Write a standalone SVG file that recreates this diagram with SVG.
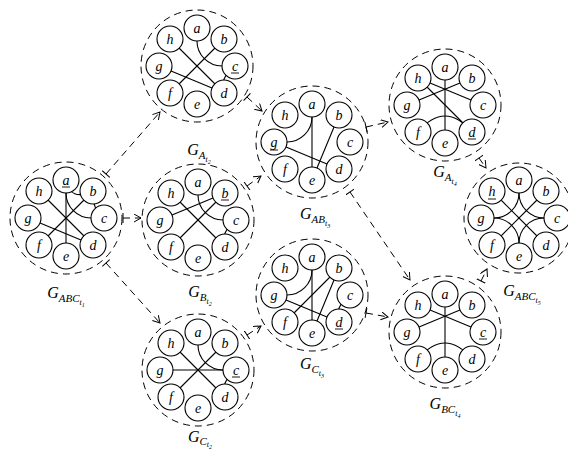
<svg xmlns="http://www.w3.org/2000/svg" width="568" height="452" viewBox="0 0 568 452">
<style>
.bg{fill:#fff}
.hull{fill:none;stroke:#000;stroke-width:1;stroke-dasharray:7 5}
.n circle{fill:#fff;stroke:#000;stroke-width:1.1}
.n text{font-family:"Liberation Serif",serif;font-style:italic;font-size:14px;text-anchor:middle;fill:#000}
.e line,.e path{stroke:#000;stroke-width:1.1;fill:none}
.ul{stroke:#000;stroke-width:0.9}
.lbl{font-family:"Liberation Serif",serif;font-style:italic;font-size:16px;text-anchor:middle;fill:#000}
.cn path{fill:none;stroke:#000;stroke-width:1;stroke-dasharray:7 5;marker-start:url(#bar);marker-end:url(#arr)}
</style>
<defs>
<marker id="arr" markerWidth="10" markerHeight="10" refX="7" refY="4" orient="auto" markerUnits="userSpaceOnUse"><path d="M0,0 L7,4 L0,8" fill="none" stroke="#000" stroke-width="1"/></marker>
<marker id="bar" markerWidth="3" markerHeight="10" refX="1" refY="5" orient="auto" markerUnits="userSpaceOnUse"><path d="M1,0 V10" stroke="#000" stroke-width="1"/></marker>
</defs>
<rect class="bg" width="568" height="452"/>

<g id="connectors" class="cn">
<path d="M106,174 L160,112"/>
<path d="M123,218 L141,218"/>
<path d="M106,263 L160,323"/>
<path d="M247,97 L262,111"/>
<path d="M247,186 L261,176"/>
<path d="M247,335 L261,326"/>
<path d="M366,127 L388,122"/>
<path d="M350,192 L410,280"/>
<path d="M366,313 L388,317"/>
<path d="M479,158 L486,168"/>
<path d="M481,281 L487,269"/>
</g>

<!-- G_ABC_t1 -->
<g id="G_ABC_t1" transform="translate(66,218)">
<circle class="hull" r="56"/>
<g class="e">
<line x1="0" y1="-38" x2="0" y2="38"/>
<line x1="-27" y1="-27" x2="27" y2="27"/>
<line x1="-38" y1="0" x2="27" y2="27"/>
<line x1="27" y1="-27" x2="-27" y2="27"/>
<path d="M0,-38 L0,-25 A25,25 0 0 0 25,0 L38,0"/>
<path d="M0,-38 Q4,-16 27,-27"/>
<path d="M27,-27 Q26,-8 38,0"/>
</g>
<g class="n"><circle cx="0" cy="-38" r="13"/><text x="0" y="-33.5">a</text><line class="ul" x1="-4" y1="-31" x2="4" y2="-31"/></g>
<g class="n"><circle cx="27" cy="-27" r="13"/><text x="27" y="-22.5">b</text></g>
<g class="n"><circle cx="38" cy="0" r="13"/><text x="38" y="4.5">c</text></g>
<g class="n"><circle cx="27" cy="27" r="13"/><text x="27" y="31.5">d</text></g>
<g class="n"><circle cx="0" cy="38" r="13"/><text x="0" y="42.5">e</text></g>
<g class="n"><circle cx="-27" cy="27" r="13"/><text x="-27" y="31.5">f</text></g>
<g class="n"><circle cx="-38" cy="0" r="13"/><text x="-38" y="4.5">g</text></g>
<g class="n"><circle cx="-27" cy="-27" r="13"/><text x="-27" y="-22.5">h</text></g>
<text class="lbl" x="0" y="80">G<tspan font-size="11" dy="4">ABC</tspan><tspan font-size="8" dy="3">t</tspan><tspan font-size="6" dy="2">1</tspan></text>
</g>

<!-- G_A_t2 -->
<g id="G_A_t2" transform="translate(197,66)">
<circle class="hull" r="56"/>
<g class="e">
<line x1="-27" y1="-27" x2="27" y2="27"/>
<line x1="-38" y1="0" x2="27" y2="27"/>
<line x1="27" y1="-27" x2="-27" y2="27"/>
<path d="M0,-38 L0,-25 A25,25 0 0 0 25,0 L38,0"/>
<path d="M38,0 Q22,12 27,27"/>
</g>
<g class="n"><circle cx="0" cy="-38" r="13"/><text x="0" y="-33.5">a</text></g>
<g class="n"><circle cx="27" cy="-27" r="13"/><text x="27" y="-22.5">b</text></g>
<g class="n"><circle cx="38" cy="0" r="13"/><text x="38" y="4.5">c</text><line class="ul" x1="34" y1="7" x2="42" y2="7"/></g>
<g class="n"><circle cx="27" cy="27" r="13"/><text x="27" y="31.5">d</text></g>
<g class="n"><circle cx="0" cy="38" r="13"/><text x="0" y="42.5">e</text></g>
<g class="n"><circle cx="-27" cy="27" r="13"/><text x="-27" y="31.5">f</text></g>
<g class="n"><circle cx="-38" cy="0" r="13"/><text x="-38" y="4.5">g</text></g>
<g class="n"><circle cx="-27" cy="-27" r="13"/><text x="-27" y="-22.5">h</text></g>
<text class="lbl" x="2" y="89">G<tspan font-size="11" dy="4">A</tspan><tspan font-size="8" dy="3">t</tspan><tspan font-size="6" dy="2">2</tspan></text>
</g>

<!-- G_B_t2 -->
<g id="G_B_t2" transform="translate(198,220)">
<circle class="hull" r="56"/>
<g class="e">
<line x1="-27" y1="-27" x2="27" y2="27"/>
<line x1="-38" y1="0" x2="27" y2="-27"/>
<line x1="27" y1="-27" x2="-27" y2="27"/>
<path d="M0,-38 L0,-25 A25,25 0 0 0 25,0 L38,0"/>
<path d="M38,0 Q22,12 27,27"/>
</g>
<g class="n"><circle cx="0" cy="-38" r="13"/><text x="0" y="-33.5">a</text></g>
<g class="n"><circle cx="27" cy="-27" r="13"/><text x="27" y="-22.5">b</text><line class="ul" x1="23" y1="-20" x2="31" y2="-20"/></g>
<g class="n"><circle cx="38" cy="0" r="13"/><text x="38" y="4.5">c</text></g>
<g class="n"><circle cx="27" cy="27" r="13"/><text x="27" y="31.5">d</text></g>
<g class="n"><circle cx="0" cy="38" r="13"/><text x="0" y="42.5">e</text></g>
<g class="n"><circle cx="-27" cy="27" r="13"/><text x="-27" y="31.5">f</text></g>
<g class="n"><circle cx="-38" cy="0" r="13"/><text x="-38" y="4.5">g</text></g>
<g class="n"><circle cx="-27" cy="-27" r="13"/><text x="-27" y="-22.5">h</text></g>
<text class="lbl" x="2" y="77">G<tspan font-size="11" dy="4">B</tspan><tspan font-size="8" dy="3">t</tspan><tspan font-size="6" dy="2">2</tspan></text>
</g>

<!-- G_C_t2 -->
<g id="G_C_t2" transform="translate(198,370)">
<circle class="hull" r="56"/>
<g class="e">
<line x1="-27" y1="-27" x2="27" y2="27"/>
<line x1="-38" y1="0" x2="38" y2="0"/>
<line x1="27" y1="-27" x2="-27" y2="27"/>
<path d="M0,-38 L0,-25 A25,25 0 0 0 25,0 L38,0"/>
<path d="M38,0 Q22,12 27,27"/>
</g>
<g class="n"><circle cx="0" cy="-38" r="13"/><text x="0" y="-33.5">a</text></g>
<g class="n"><circle cx="27" cy="-27" r="13"/><text x="27" y="-22.5">b</text></g>
<g class="n"><circle cx="38" cy="0" r="13"/><text x="38" y="4.5">c</text><line class="ul" x1="34" y1="7" x2="42" y2="7"/></g>
<g class="n"><circle cx="27" cy="27" r="13"/><text x="27" y="31.5">d</text></g>
<g class="n"><circle cx="0" cy="38" r="13"/><text x="0" y="42.5">e</text></g>
<g class="n"><circle cx="-27" cy="27" r="13"/><text x="-27" y="31.5">f</text></g>
<g class="n"><circle cx="-38" cy="0" r="13"/><text x="-38" y="4.5">g</text></g>
<g class="n"><circle cx="-27" cy="-27" r="13"/><text x="-27" y="-22.5">h</text></g>
<text class="lbl" x="2" y="72">G<tspan font-size="11" dy="3">C</tspan><tspan font-size="8" dy="2">t</tspan><tspan font-size="6" dy="2">2</tspan></text>
</g>

<!-- G_AB_t3 -->
<g id="G_AB_t3" transform="translate(312,142)">
<circle class="hull" r="56"/>
<g class="e">
<line x1="0" y1="-38" x2="0" y2="38"/>
<line x1="27" y1="-27" x2="0" y2="38"/>
<line x1="-38" y1="0" x2="27" y2="27"/>
<path d="M0,-38 L0,-25 A25,25 0 0 1 -25,0 L-38,0"/>
</g>
<g class="n"><circle cx="0" cy="-38" r="13"/><text x="0" y="-33.5">a</text></g>
<g class="n"><circle cx="27" cy="-27" r="13"/><text x="27" y="-22.5">b</text></g>
<g class="n"><circle cx="38" cy="0" r="13"/><text x="38" y="4.5">c</text></g>
<g class="n"><circle cx="27" cy="27" r="13"/><text x="27" y="31.5">d</text></g>
<g class="n"><circle cx="0" cy="38" r="13"/><text x="0" y="42.5">e</text></g>
<g class="n"><circle cx="-27" cy="27" r="13"/><text x="-27" y="31.5">f</text></g>
<g class="n"><circle cx="-38" cy="0" r="13"/><text x="-38" y="4.5">g</text><line class="ul" x1="-42" y1="8" x2="-34" y2="8"/></g>
<g class="n"><circle cx="-27" cy="-27" r="13"/><text x="-27" y="-22.5">h</text></g>
<text class="lbl" x="3" y="77">G<tspan font-size="11" dy="4">AB</tspan><tspan font-size="8" dy="3">t</tspan><tspan font-size="6" dy="2">3</tspan></text>
</g>

<!-- G_C_t3 -->
<g id="G_C_t3" transform="translate(312,295)">
<circle class="hull" r="56"/>
<g class="e">
<line x1="0" y1="-38" x2="0" y2="38"/>
<line x1="27" y1="-27" x2="-27" y2="27"/>
<line x1="27" y1="-27" x2="0" y2="38"/>
<line x1="-38" y1="0" x2="27" y2="27"/>
<path d="M0,-38 L0,-25 A25,25 0 0 1 -25,0 L-38,0"/>
<path d="M38,0 Q22,12 27,27"/>
</g>
<g class="n"><circle cx="0" cy="-38" r="13"/><text x="0" y="-33.5">a</text></g>
<g class="n"><circle cx="27" cy="-27" r="13"/><text x="27" y="-22.5">b</text></g>
<g class="n"><circle cx="38" cy="0" r="13"/><text x="38" y="4.5">c</text></g>
<g class="n"><circle cx="27" cy="27" r="13"/><text x="27" y="31.5">d</text><line class="ul" x1="23" y1="34" x2="31" y2="34"/></g>
<g class="n"><circle cx="0" cy="38" r="13"/><text x="0" y="42.5">e</text></g>
<g class="n"><circle cx="-27" cy="27" r="13"/><text x="-27" y="31.5">f</text></g>
<g class="n"><circle cx="-38" cy="0" r="13"/><text x="-38" y="4.5">g</text></g>
<g class="n"><circle cx="-27" cy="-27" r="13"/><text x="-27" y="-22.5">h</text></g>
<text class="lbl" x="0" y="74">G<tspan font-size="11" dy="4">C</tspan><tspan font-size="8" dy="3">t</tspan><tspan font-size="6" dy="2">3</tspan></text>
</g>

<!-- G_A_t4 -->
<g id="G_A_t4" transform="translate(445,105)">
<circle class="hull" r="56"/>
<g class="e">
<line x1="0" y1="-38" x2="0" y2="38"/>
<line x1="-27" y1="-27" x2="38" y2="0"/>
<line x1="-38" y1="0" x2="27" y2="-27"/>
<line x1="-27" y1="-27" x2="27" y2="27"/>
<path d="M-27,27 Q0,-5 27,27"/>
</g>
<g class="n"><circle cx="0" cy="-38" r="13"/><text x="0" y="-33.5">a</text></g>
<g class="n"><circle cx="27" cy="-27" r="13"/><text x="27" y="-22.5">b</text></g>
<g class="n"><circle cx="38" cy="0" r="13"/><text x="38" y="4.5">c</text></g>
<g class="n"><circle cx="27" cy="27" r="13"/><text x="27" y="31.5">d</text><line class="ul" x1="23" y1="34" x2="31" y2="34"/></g>
<g class="n"><circle cx="0" cy="38" r="13"/><text x="0" y="42.5">e</text></g>
<g class="n"><circle cx="-27" cy="27" r="13"/><text x="-27" y="31.5">f</text></g>
<g class="n"><circle cx="-38" cy="0" r="13"/><text x="-38" y="4.5">g</text></g>
<g class="n"><circle cx="-27" cy="-27" r="13"/><text x="-27" y="-22.5">h</text></g>
<text class="lbl" x="0" y="72">G<tspan font-size="11" dy="4">A</tspan><tspan font-size="8" dy="3">t</tspan><tspan font-size="6" dy="2">4</tspan></text>
</g>

<!-- G_BC_t4 -->
<g id="G_BC_t4" transform="translate(445,332)">
<circle class="hull" r="56"/>
<g class="e">
<line x1="0" y1="-38" x2="0" y2="38"/>
<line x1="-27" y1="-27" x2="38" y2="0"/>
<line x1="-38" y1="0" x2="27" y2="-27"/>
<path d="M-27,27 Q0,-5 27,27"/>
</g>
<g class="n"><circle cx="0" cy="-38" r="13"/><text x="0" y="-33.5">a</text></g>
<g class="n"><circle cx="27" cy="-27" r="13"/><text x="27" y="-22.5">b</text></g>
<g class="n"><circle cx="38" cy="0" r="13"/><text x="38" y="4.5">c</text><line class="ul" x1="34" y1="7" x2="42" y2="7"/></g>
<g class="n"><circle cx="27" cy="27" r="13"/><text x="27" y="31.5">d</text></g>
<g class="n"><circle cx="0" cy="38" r="13"/><text x="0" y="42.5">e</text></g>
<g class="n"><circle cx="-27" cy="27" r="13"/><text x="-27" y="31.5">f</text></g>
<g class="n"><circle cx="-38" cy="0" r="13"/><text x="-38" y="4.5">g</text></g>
<g class="n"><circle cx="-27" cy="-27" r="13"/><text x="-27" y="-22.5">h</text></g>
<text class="lbl" x="0" y="77">G<tspan font-size="11" dy="4">BC</tspan><tspan font-size="8" dy="3">t</tspan><tspan font-size="6" dy="2">4</tspan></text>
</g>

<!-- G_ABC_t5 -->
<g id="G_ABC_t5" transform="translate(519,218)">
<circle class="hull" r="55"/>
<g class="e">
<line x1="-27" y1="-27" x2="27" y2="27"/>
<line x1="27" y1="-27" x2="-27" y2="27"/>
<path d="M0,-38 L0,-25 A25,25 0 0 1 -25,0 L-38,0"/>
<path d="M0,-38 L0,-25 A25,25 0 0 0 25,0 L38,0"/>
<path d="M0,38 L0,25 A25,25 0 0 0 -25,0 L-38,0"/>
<path d="M0,38 L0,25 A25,25 0 0 1 25,0 L38,0"/>
</g>
<g class="n"><circle cx="0" cy="-38" r="13"/><text x="0" y="-33.5">a</text></g>
<g class="n"><circle cx="27" cy="-27" r="13"/><text x="27" y="-22.5">b</text></g>
<g class="n"><circle cx="38" cy="0" r="13"/><text x="38" y="4.5">c</text></g>
<g class="n"><circle cx="27" cy="27" r="13"/><text x="27" y="31.5">d</text></g>
<g class="n"><circle cx="0" cy="38" r="13"/><text x="0" y="42.5">e</text></g>
<g class="n"><circle cx="-27" cy="27" r="13"/><text x="-27" y="31.5">f</text></g>
<g class="n"><circle cx="-38" cy="0" r="13"/><text x="-38" y="4.5">g</text></g>
<g class="n"><circle cx="-27" cy="-27" r="13"/><text x="-27" y="-22.5">h</text><line class="ul" x1="-31" y1="-19" x2="-23" y2="-19"/></g>
<text class="lbl" x="3" y="78">G<tspan font-size="11" dy="4">ABC</tspan><tspan font-size="8" dy="3">t</tspan><tspan font-size="6" dy="2">5</tspan></text>
</g>
</svg>
